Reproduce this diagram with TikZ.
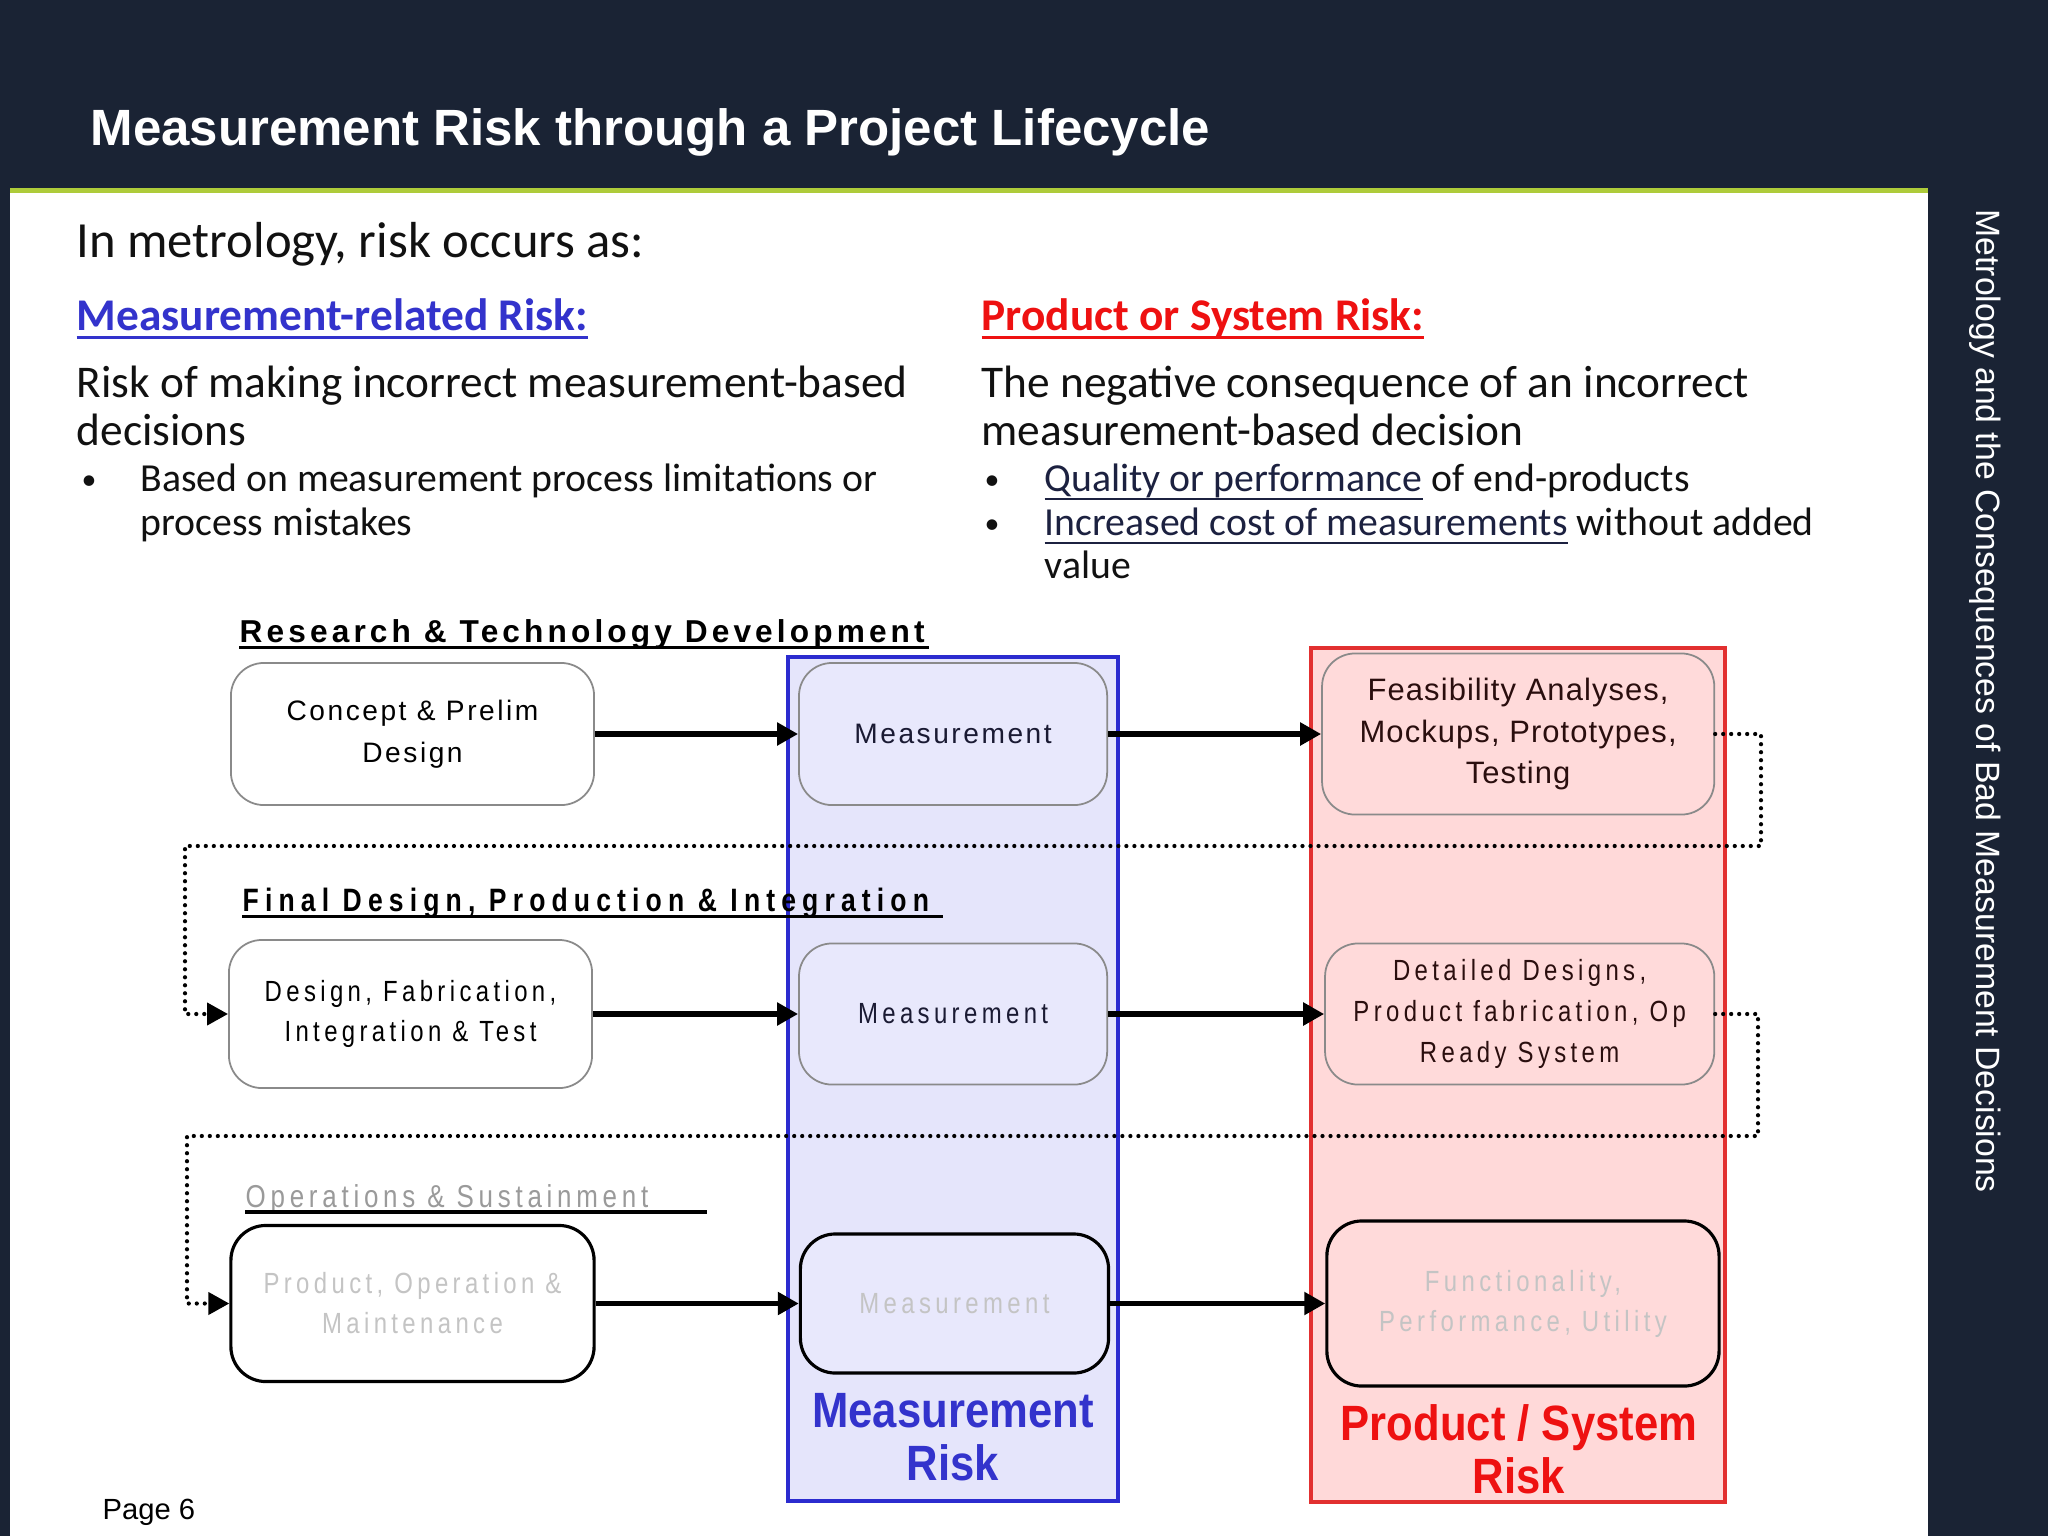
\documentclass[tikz,border=0pt]{standalone}
\usepackage{fontspec}
\setmainfont{Carlito}
\newfontfamily\arialfont{Liberation Sans}
\newfontfamily\boxfont{Liberation Sans}[LetterSpace=9]
\newfontfamily\feasfont{Liberation Sans}[LetterSpace=3.5]
\newfontfamily\narrowfont{Liberation Sans}[FakeStretch=0.82,LetterSpace=15]
\newfontfamily\narrowhead{Liberation Sans}[FakeStretch=0.82,LetterSpace=19]
\newfontfamily\headfont{Liberation Sans}[LetterSpace=13]
\newfontfamily\labelfont{Liberation Sans}[FakeStretch=0.88]
\newcommand{\undertext}[2][0.7pt]{\setbox0\hbox{#2}\rlap{\rule[-2.6pt]{\wd0}{#1}}\box0}
\usepackage{xcolor}
\definecolor{navybg}{HTML}{1A2334}
\definecolor{limeline}{HTML}{AECB3A}
\definecolor{riskblue}{HTML}{3333CC}
\definecolor{riskred}{HTML}{EE1111}
\definecolor{colblue}{HTML}{2B2BCF}
\definecolor{colbluefill}{HTML}{E5E5FB}
\definecolor{colred}{HTML}{E23030}
\definecolor{colredfill}{HTML}{FFD9D9}
\definecolor{measfill}{HTML}{E8E8FC}
\definecolor{prodfill}{HTML}{FFDADA}
\definecolor{meastext}{HTML}{1A1A33}
\definecolor{prodtext}{HTML}{2A0E0E}
\definecolor{linknavy}{HTML}{1C2140}
\definecolor{boxgray}{HTML}{8A8A8A}
\definecolor{fadedtext}{HTML}{C4C4C4}
\definecolor{fadedhead}{HTML}{9A9A9A}
\definecolor{bodytext}{HTML}{111111}
\usetikzlibrary{positioning,arrows.meta}

\begin{document}
\begin{tikzpicture}[x=0.01cm, y=-0.01cm,
  node distance=0cm,
  txt/.style={anchor=base west, inner sep=0pt, text=bodytext},
  phase/.style={anchor=base west, inner sep=0pt},
  box/.style={rounded corners=0.33cm, draw=boxgray, line width=0.5pt,
              align=center, inner sep=0pt},
  plainbox/.style={box, fill=white},
  measbox/.style={box, fill=measfill, text=meastext},
  prodbox/.style={box, fill=prodfill, text=prodtext},
  lastbox/.style={draw=black, line width=0.9pt, rounded corners=0.35cm,
                  align=center, inner sep=0pt, text=fadedtext,
                  font=\narrowfont\fontsize{8.3}{11.4}\selectfont},
  arr/.style={-{Triangle[length=0.21cm,width=0.22cm]}, line width=1.6pt},
  loopline/.style={line width=1.2pt, dash pattern=on 0pt off 0.08cm, line cap=round,
                   -{Triangle[length=0.21cm,width=0.22cm]}}
]
  \useasboundingbox (0,0) rectangle (2048,1536);
  % slide frame
  \fill[navybg] (0,0) rectangle (2048,1536);
  \fill[white] (10,193) rectangle (1928,1536);
  \fill[limeline] (10,188) rectangle (1928,193);
  \node[phase, text=white, font=\arialfont\bfseries\fontsize{14.5}{17}\selectfont] (title) at (90,145)
    {Measurement Risk through a Project Lifecycle};
  \node[phase, rotate=-90, text=white, font=\arialfont\fontsize{9.6}{12}\selectfont] (sidetitle) at (1976,209)
    {Metrology and the Consequences of Bad Measurement Decisions};
  \node[phase, font=\arialfont\fontsize{8.3}{10}\selectfont] (pagenum) at (102,1519) {Page 6};

  % text column
  \node[txt, font=\fontsize{14.4}{17}\selectfont] (intro) at (76,257) {In metrology, risk occurs as:};
  \node[txt, text=riskblue, font=\bfseries\fontsize{12.9}{15}\selectfont] (mrhead) at (76,330)
    {\undertext[0.85pt]{Measurement-related Risk:}};
  \node[txt, font=\fontsize{12.9}{15}\selectfont] (mrdefa) at (76,397) {Risk of making incorrect measurement-based};
  \node[txt, font=\fontsize{12.9}{15}\selectfont] (mrdefb) at (76,445) {decisions};
  \node[txt, font=\fontsize{8.5}{13}\selectfont] (mrbul) at (81,489) {\textbullet};
  \node[txt, font=\fontsize{11.3}{13}\selectfont] (mrpta) at (140,491) {Based on measurement process limitations or};
  \node[txt, font=\fontsize{11.3}{13}\selectfont] (mrptb) at (140,535) {process mistakes};

  \node[txt, text=riskred, font=\bfseries\fontsize{12.9}{15}\selectfont] (pshead) at (981,330)
    {\undertext[0.85pt]{Product or System Risk:}};
  \node[txt, font=\fontsize{12.9}{15}\selectfont] (psdefa) at (981,397) {The negative consequence of an incorrect};
  \node[txt, font=\fontsize{12.9}{15}\selectfont] (psdefb) at (981,445) {measurement-based decision};
  \node[txt, font=\fontsize{8.5}{13}\selectfont] (psbula) at (984,489) {\textbullet};
  \node[txt, font=\fontsize{8.5}{13}\selectfont] (psbulb) at (984,533) {\textbullet};
  \node[txt, font=\fontsize{11.3}{13}\selectfont] (pspta) at (1044,491)
    {\textcolor{linknavy}{\undertext{Quality or performance}} of end-products};
  \node[txt, font=\fontsize{11.3}{13}\selectfont] (psptb) at (1044,535)
    {\textcolor{linknavy}{\undertext{Increased cost of measurements}} without added};
  \node[txt, font=\fontsize{11.3}{13}\selectfont] (psptc) at (1044,578) {value};

  % risk columns
  \draw[colblue, fill=colbluefill, line width=1pt] (788,657) rectangle (1118,1501);
  \draw[colred, fill=colredfill, line width=1pt] (1311,648) rectangle (1725,1502);
  \node[align=center, inner sep=0pt, anchor=base, text=riskblue,
        font=\labelfont\bfseries\fontsize{14.1}{14.8}\selectfont] (mrisk) at (953,1480) {Measurement\\Risk};
  \node[align=center, inner sep=0pt, anchor=base, text=riskred,
        font=\labelfont\bfseries\fontsize{14.1}{14.8}\selectfont] (psrisk) at (1519,1493) {Product / System\\Risk};

  % phase headings
  \node[phase, font=\headfont\bfseries\fontsize{9}{11}\selectfont] (rtdhead) at (239,642)
    {Research \& Technology Development};
  \draw[line width=1.1pt] ([yshift=-0.055cm]rtdhead.base west) -- ([xshift=6.9cm,yshift=-0.055cm]rtdhead.base west);
  \node[phase, font=\narrowhead\bfseries\fontsize{9.2}{11}\selectfont] (fdphead) at (242,911)
    {Final Design, Production \& Integration};
  \draw[line width=1.1pt] ([yshift=-0.055cm]fdphead.base west) -- ([xshift=7.01cm,yshift=-0.055cm]fdphead.base west);
  \node[phase, text=fadedhead, font=\narrowfont\fontsize{9}{11}\selectfont] (ophead) at (245,1207)
    {Operations \& Sustainment};
  \draw[line width=1.4pt] ([yshift=-0.05cm]ophead.base west) -- ([xshift=4.62cm,yshift=-0.05cm]ophead.base west);

  % row 1
  \node[plainbox, font=\boxfont\fontsize{8}{11.9}\selectfont,
        minimum width=3.63cm, minimum height=1.42cm] (concept) at (412.5,734) {Concept \& Prelim\\Design};
  \node[measbox, font=\boxfont\fontsize{8}{11.9}\selectfont,
        minimum width=3.08cm, minimum height=1.42cm, right=2.03cm of concept] (meas1) {Measurement};
  \node[prodbox, font=\feasfont\fontsize{8.8}{11.8}\selectfont,
        minimum width=3.92cm, minimum height=1.61cm, right=2.13cm of meas1] (feas)
    {Feasibility Analyses,\\Mockups, Prototypes,\\Testing};

  % row 2
  \node[plainbox, font=\narrowfont\fontsize{8.3}{11.4}\selectfont,
        minimum width=3.63cm, minimum height=1.48cm] (design) at (410.5,1014)
    {Design, Fabrication,\\Integration \& Test};
  \node[measbox, font=\narrowfont\fontsize{8.3}{11.4}\selectfont,
        minimum width=3.08cm, minimum height=1.41cm, right=2.05cm of design] (meas2) {Measurement};
  \node[prodbox, font=\narrowfont\fontsize{8.3}{11.6}\selectfont,
        minimum width=3.89cm, minimum height=1.41cm, right=2.16cm of meas2] (detail)
    {Detailed Designs,\\Product fabrication, Op\\Ready System};

  % row 3
  \node[lastbox, fill=white, minimum width=3.63cm, minimum height=1.56cm] (operate) at (412.5,1303.5)
    {Product, Operation \&\\Maintenance};
  \node[lastbox, fill=measfill, minimum width=3.08cm, minimum height=1.39cm, right=2.03cm of operate] (meas3)
    {Measurement};
  \node[lastbox, fill=prodfill, minimum width=3.92cm, minimum height=1.65cm, right=2.15cm of meas3] (utility)
    {Functionality,\\Performance, Utility};

  % flow
  \draw[arr] (concept) -- (meas1);
  \draw[arr] (meas1) -- (feas);
  \draw[arr] (design) -- (meas2);
  \draw[arr] (meas2) -- (detail);
  \draw[arr] (operate) -- (meas3);
  \draw[arr] (meas3) -- (utility);

  \coordinate (loop1r) at (1761,846);
  \coordinate (loop1l) at (185,846);
  \draw[loopline] (feas.east) -| (loop1r) -- (loop1l) |- (design.west);
  \coordinate (loop2r) at (1758,1136);
  \coordinate (loop2l) at (187,1136);
  \draw[loopline] (detail.east) -| (loop2r) -- (loop2l) |- (operate.west);
\end{tikzpicture}
\end{document}
